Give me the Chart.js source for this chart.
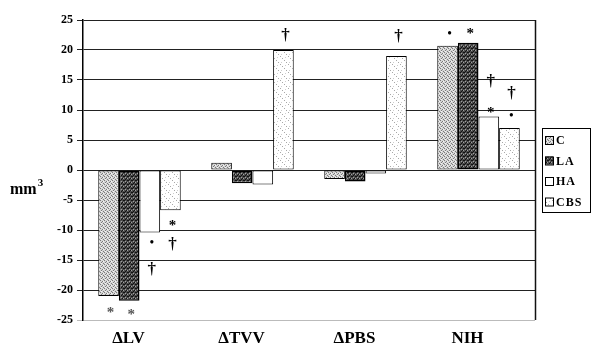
<!DOCTYPE html>
<html>
<head>
<meta charset="utf-8">
<script src="https://cdn.jsdelivr.net/npm/chart.js@4/dist/chart.umd.min.js"></script>
<style>
  html, body { margin: 0; padding: 0; background: #fff; }
  #wrap { width: 591px; height: 347px; }
</style>
</head>
<body>
<div id="wrap"><canvas id="chart" width="591" height="347"></canvas></div>
<script>
const categories = ['\u0394LV', '\u0394TVV', '\u0394PBS', 'NIH'];
const seriesNames = ['C', 'LA', 'HA', 'CBS'];
const valuesC = [-21, 1.2, -1.5, 20.7];
const valuesLA = [-21.8, -2.2, -1.9, 21.2];
const valuesHA = [-10.4, -2.4, -0.6, 8.9];
const valuesCBS = [-6.7, 20, 19, 7];
const yMin = -25;
const yMax = 25;
const yStep = 5;
// significance marks: [category, series, value, symbol]
const marks = [
  [0, 0, -23.4, '*'], [0, 1, -23.7, '*'],
  [0, 2, -12.2, '\u2022'], [0, 2, -16.6, '\u2020'],
  [0, 3, -8.8, '*'], [0, 3, -12.4, '\u2020'],
  [1, 3, 22.4, '\u2020'], [2, 3, 22.2, '\u2020'],
  [3, 0, 22.7, '\u2022'], [3, 1, 23.1, '*'],
  [3, 2, 14.7, '\u2020'], [3, 2, 10, '*'],
  [3, 3, 12.8, '\u2020'], [3, 3, 9, '\u2022']
];

function tile(size, draw) {
  const c = document.createElement('canvas');
  c.width = size; c.height = size;
  const g = c.getContext('2d');
  draw(g);
  return g.createPattern(c, 'repeat');
}

const patC = tile(4, (g) => {
  g.fillStyle = '#d6d6d6'; g.fillRect(0, 0, 4, 4);
  g.fillStyle = '#7a7a7a';
  g.fillRect(0, 0, 1, 1); g.fillRect(2, 1, 1, 1); g.fillRect(1, 2, 1, 1); g.fillRect(3, 3, 1, 1);
  g.fillStyle = '#f4f4f4'; g.fillRect(3, 1, 1, 1); g.fillRect(1, 3, 1, 1);
});
const patLA = tile(4, (g) => {
  g.fillStyle = '#4c4c4c'; g.fillRect(0, 0, 4, 4);
  g.fillStyle = '#111';
  g.fillRect(0, 0, 1, 1); g.fillRect(2, 2, 1, 1); g.fillRect(3, 0, 1, 1); g.fillRect(1, 3, 1, 1);
  g.fillStyle = '#a0a0a0'; g.fillRect(1, 1, 1, 1); g.fillRect(3, 2, 1, 1);
});
const patCBS = tile(8, (g) => {
  g.fillStyle = '#fff'; g.fillRect(0, 0, 8, 8);
  g.fillStyle = '#a8a8a8';
  for (let i = 0; i < 8; i += 2) g.fillRect(i, i, 1, 1);
  g.fillStyle = '#cfcfcf';
  g.fillRect(5, 1, 1, 1); g.fillRect(1, 6, 1, 1);
});

const fills = [patC, patLA, '#ffffff', patCBS];
const serif = '"Liberation Serif", "DejaVu Serif", serif';

const extras = {
  id: 'extras',
  afterDraw(chart) {
    const { ctx, chartArea: a, scales } = chart;
    ctx.save();
    // right frame line
    ctx.strokeStyle = '#111';
    ctx.lineWidth = 1.5;
    ctx.beginPath();
    ctx.moveTo(a.right + 0.5, a.top);
    ctx.lineTo(a.right + 0.5, a.bottom);
    ctx.stroke();

    // unit label
    ctx.fillStyle = '#000';
    ctx.textBaseline = 'alphabetic';
    ctx.textAlign = 'left';
    ctx.font = 'bold 16px ' + serif;
    ctx.fillText('mm', 10, 194);
    const w = ctx.measureText('mm').width;
    ctx.font = 'bold 11px ' + serif;
    ctx.fillText('3', 10 + w + 1, 186);

    // significance marks
    ctx.textAlign = 'center';
    ctx.textBaseline = 'middle';
    marks.forEach(([cat, ser, value, sym]) => {
      const bar = chart.getDatasetMeta(ser).data[cat];
      const y = scales.y.getPixelForValue(value);
      ctx.fillStyle = cat === 0 && ser < 2 ? '#555' : '#000';
      if (sym === '\u2020') ctx.font = 'bold 17px ' + serif;
      else if (sym === '*') ctx.font = 'bold 15px ' + serif;
      else ctx.font = 'bold 12px ' + serif;
      ctx.fillText(sym, bar.x + 2, sym === '*' ? y + 3 : y);
    });

    // legend box
    const lx = 542, ly = 128;
    ctx.strokeStyle = '#000';
    ctx.lineWidth = 1;
    ctx.strokeRect(lx + 0.5, ly + 0.5, 48, 84);
    ctx.textAlign = 'left';
    ctx.textBaseline = 'middle';
    ctx.font = 'bold 12px ' + serif;
    ctx.letterSpacing = '1px';
    seriesNames.forEach((name, i) => {
      const cy = ly + 12 + i * 20.5;
      ctx.fillStyle = fills[i];
      ctx.fillRect(lx + 3, cy - 4, 8, 8);
      ctx.strokeStyle = '#000';
      ctx.strokeRect(lx + 3.5, cy - 3.5, 8, 8);
      ctx.fillStyle = '#000';
      ctx.fillText(name, lx + 14, cy + 1);
    });
    ctx.restore();
  }
};

const datasets = [valuesC, valuesLA, valuesHA, valuesCBS].map((data, i) => ({
  label: seriesNames[i],
  data,
  backgroundColor: fills[i],
  borderColor: '#000',
  borderWidth: i === 1 ? 1.5 : 1,
  borderSkipped: false
}));

new Chart(document.getElementById('chart'), {
  type: 'bar',
  data: { labels: categories, datasets },
  options: {
    responsive: false,
    animation: false,
    events: [],
    categoryPercentage: 0.73,
    barPercentage: 1,
    layout: { padding: { left: 0, right: 56, top: 20, bottom: 0 } },
    plugins: { legend: { display: false }, tooltip: { enabled: false } },
    scales: {
      x: {
        afterFit(scale) { scale.height = 27; },
        grid: { display: false, drawTicks: false },
        border: { display: false },
        ticks: {
          color: '#000',
          font: { family: serif, size: 17, weight: 'bold' },
          padding: 8,
          labelOffset: -11,
          maxRotation: 0
        }
      },
      y: {
        min: yMin,
        max: yMax,
        afterFit(scale) { scale.width = 83; },
        ticks: {
          stepSize: yStep,
          color: '#000',
          padding: 4,
          font: { family: serif, size: 12, weight: 'bold' }
        },
        grid: {
          color: (c) => (c.tick && c.tick.value === yMin ? '#bbb' : '#222'),
          lineWidth: 1,
          tickLength: 6
        },
        border: { color: '#000', width: 1.5 }
      }
    }
  },
  plugins: [extras]
});
</script>
</body>
</html>
